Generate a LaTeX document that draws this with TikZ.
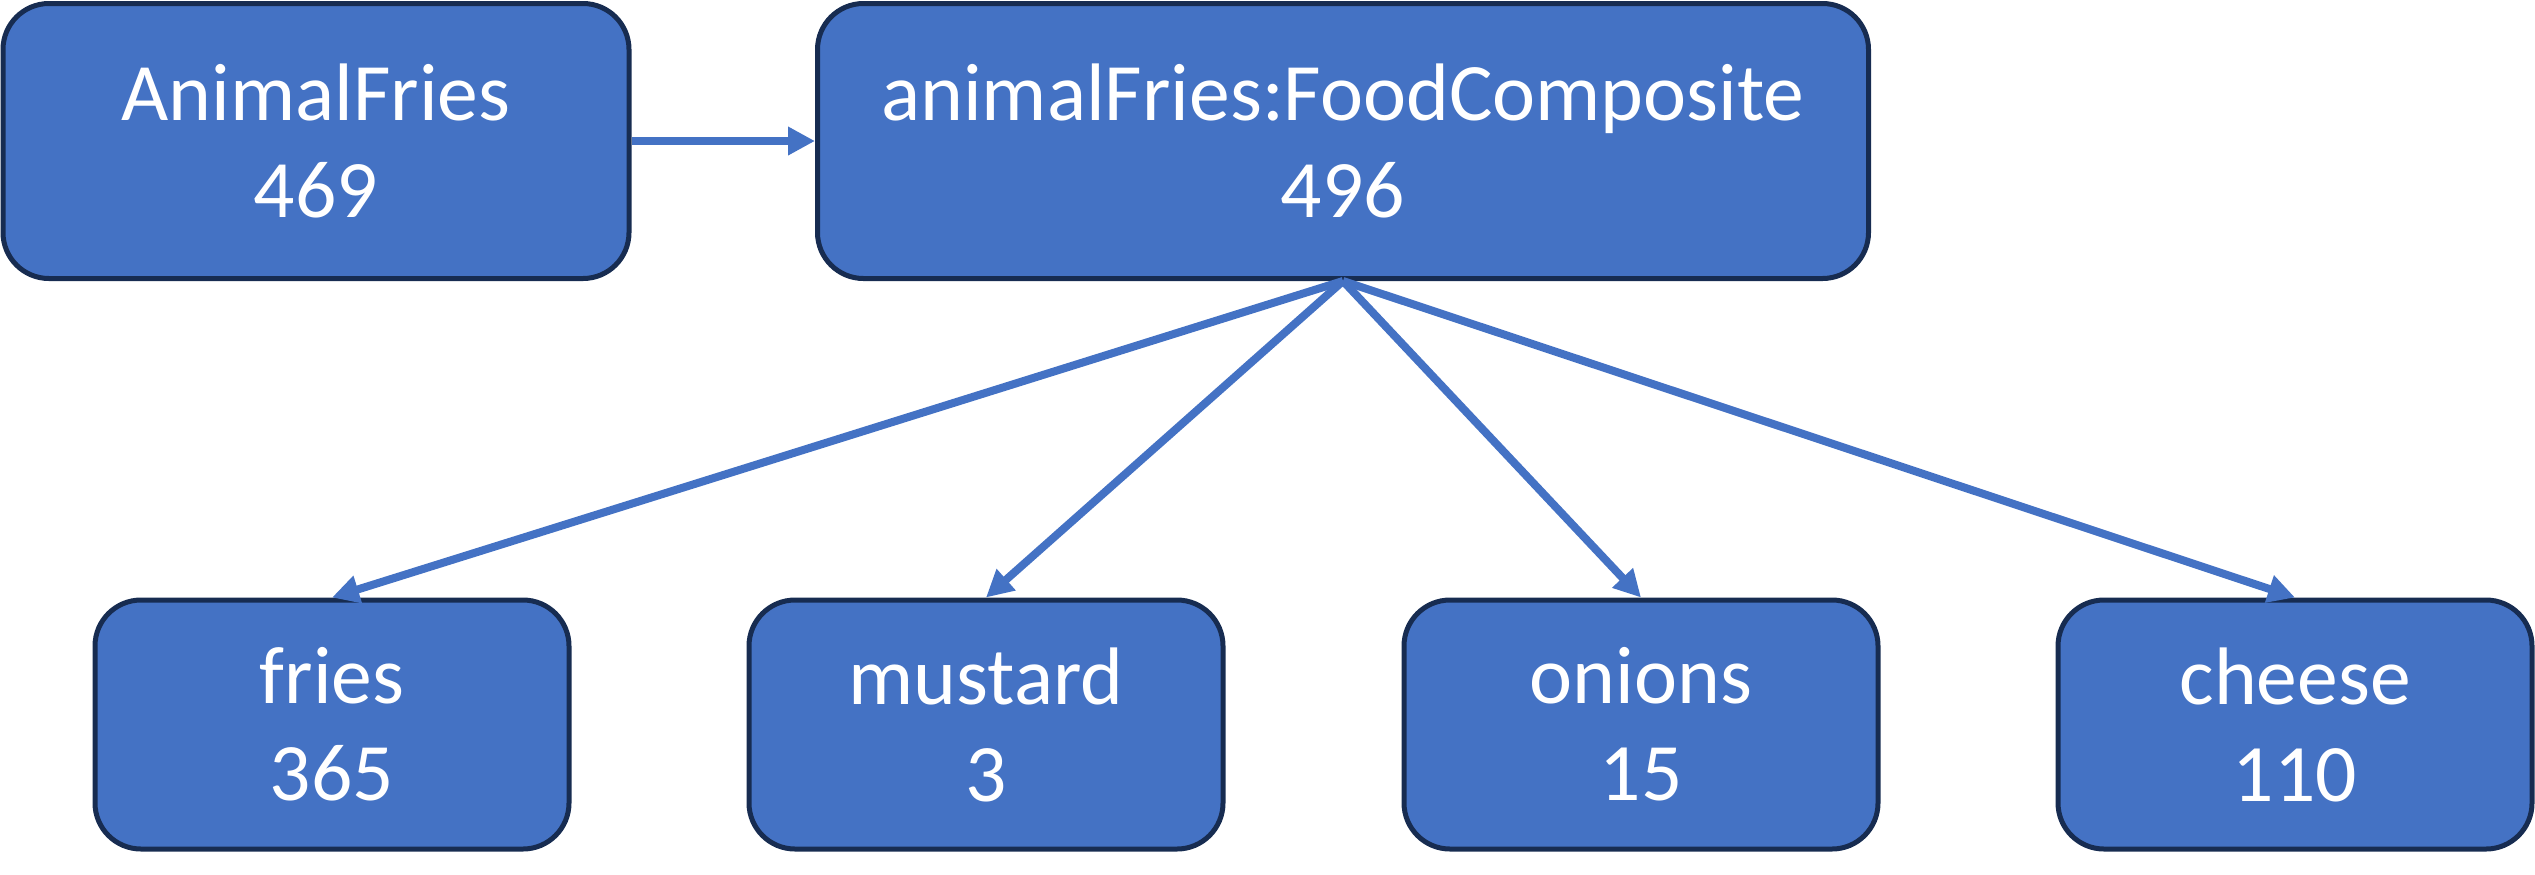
\documentclass[tikz,border=0pt]{standalone}
\usepackage{fontspec}
\setmainfont{Carlito}
\usetikzlibrary{arrows.meta}

\definecolor{boxfill}{RGB}{68,114,196}
\definecolor{boxline}{RGB}{23,44,81}

\tikzset{
  foodbox/.style={draw=boxline, fill=boxfill, line width=2.5pt, rounded corners=23pt,
    text=white, align=center, inner sep=0pt, font=\fontsize{40.8}{48.5}\selectfont},
  topbox/.style={foodbox, minimum height=137.5pt},
  partbox/.style={foodbox, minimum width=237pt, minimum height=124.5pt},
  link/.style={draw=boxfill, line width=4pt, -{Triangle[length=13.5pt,width=13.5pt]}}
}

\begin{document}
\begin{tikzpicture}[x=0.5pt,y=0.5pt,yscale=-1,xscale=1]
    \useasboundingbox (0,0) rectangle (2535,874);

    %Shape: Rounded Rect [id:animalfries]
    \node [topbox, minimum width=313pt] (animalfries) at (316,141) {AnimalFries\\469};
    %Shape: Rounded Rect [id:composite]
    \node [topbox, minimum width=525.5pt] (composite) at (1343,141) {animalFries:FoodComposite\\496};

    %Shape: Rounded Rect [id:fries]
    \node [partbox] (fries) at (332,724.5) {fries\\365};
    %Shape: Rounded Rect [id:mustard]
    \node [partbox] (mustard) at (986,724.5) {mustard\\3};
    %Shape: Rounded Rect [id:onions]
    \node [partbox] (onions) at (1641,724.5) {onions\\15};
    %Shape: Rounded Rect [id:cheese]
    \node [partbox] (cheese) at (2295,724.5) {cheese\\110};

    %Straight Lines
    \draw [link] (animalfries.east) -- (composite.west);
    %Straight Lines
    \draw [link] (composite.south) -- (fries.north);
    \draw [link] (composite.south) -- (mustard.north);
    \draw [link] (composite.south) -- (onions.north);
    \draw [link] (composite.south) -- (cheese.north);

\end{tikzpicture}
\end{document}
